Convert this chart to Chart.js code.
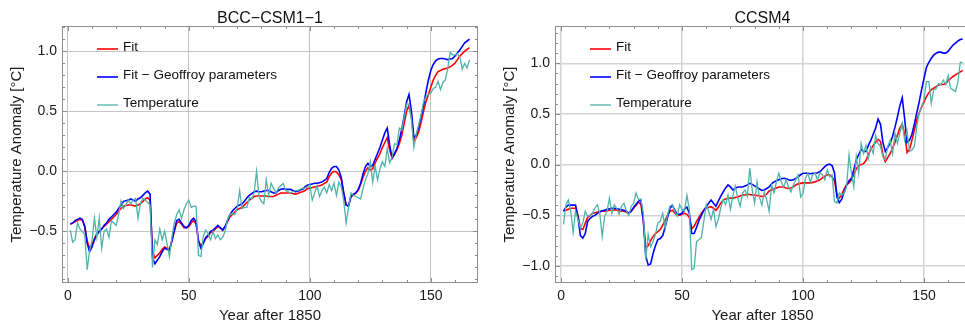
<!DOCTYPE html>
<html>
<head>
<meta charset="utf-8">
<title>Temperature anomaly fits</title>
<script src="https://cdn.jsdelivr.net/npm/chart.js@4.4.1/dist/chart.umd.min.js"></script>
<style>
  html, body { margin: 0; padding: 0; background: #fff; overflow: hidden; }
  .panel { position: absolute; top: 0; height: 326px; }
  #bccBox { left: 0; width: 480px; }
  #ccsmBox { left: 480px; width: 500px; }
</style>
</head>
<body>
<div class="panel" id="bccBox"><canvas id="bccChart"></canvas></div>
<div class="panel" id="ccsmBox"><canvas id="ccsmChart"></canvas></div>
<script>
// series labels (legend order)
const seriesNames = ['Fit', 'Fit \u2212 Geoffroy parameters', 'Temperature'];
const seriesColors = ['#ff0000', '#0000ff', '#4fb3aa'];

// tick labels
const xTicks = [0, 50, 100, 150];
const bccYTicks = [-0.5, 0, 0.5, 1.0];
const ccsmYTicks = [-1.0, -0.5, 0, 0.5, 1.0];

// BCC-CSM1-1, years 1..166 after 1850
const bccFit = [
  -0.44,-0.43,-0.42,-0.41,-0.40,-0.41,-0.46,-0.58,-0.64,-0.61,
  -0.56,-0.52,-0.50,-0.48,-0.46,-0.44,-0.42,-0.40,-0.38,-0.36,
  -0.33,-0.31,-0.29,-0.285,-0.28,-0.28,-0.285,-0.29,-0.28,-0.27,
  -0.25,-0.23,-0.22,-0.24,-0.67,-0.72,-0.70,-0.68,-0.65,-0.63,
  -0.64,-0.65,-0.58,-0.50,-0.43,-0.42,-0.44,-0.47,-0.47,-0.46,
  -0.43,-0.41,-0.44,-0.58,-0.62,-0.59,-0.56,-0.54,-0.51,-0.50,
  -0.48,-0.46,-0.47,-0.49,-0.46,-0.42,-0.38,-0.36,-0.34,-0.32,
  -0.31,-0.30,-0.28,-0.26,-0.24,-0.225,-0.21,-0.205,-0.205,-0.205,
  -0.205,-0.205,-0.21,-0.21,-0.21,-0.20,-0.19,-0.18,-0.18,-0.18,
  -0.18,-0.18,-0.185,-0.19,-0.185,-0.175,-0.17,-0.16,-0.145,-0.14,
  -0.135,-0.13,-0.125,-0.12,-0.115,-0.10,-0.09,-0.045,-0.015,0.0,
  -0.005,-0.03,-0.07,-0.18,-0.28,-0.29,-0.21,-0.20,-0.18,-0.16,
  -0.11,-0.05,0.0,0.03,0.01,0.02,0.07,0.11,0.15,0.20,
  0.24,0.28,0.18,0.11,0.14,0.18,0.23,0.30,0.40,0.50,
  0.55,0.45,0.25,0.28,0.33,0.41,0.50,0.58,0.64,0.70,
  0.76,0.80,0.83,0.84,0.85,0.855,0.86,0.87,0.885,0.90,
  0.93,0.96,0.98,1.0,1.015,1.03
];
const bccGeoffroy = [
  -0.44,-0.43,-0.41,-0.40,-0.39,-0.40,-0.46,-0.60,-0.67,-0.63,
  -0.57,-0.53,-0.50,-0.48,-0.45,-0.43,-0.40,-0.38,-0.36,-0.34,
  -0.31,-0.28,-0.25,-0.245,-0.24,-0.23,-0.24,-0.25,-0.23,-0.22,
  -0.20,-0.18,-0.165,-0.19,-0.72,-0.77,-0.74,-0.71,-0.67,-0.64,
  -0.65,-0.66,-0.58,-0.49,-0.41,-0.40,-0.43,-0.46,-0.47,-0.45,
  -0.41,-0.39,-0.42,-0.58,-0.64,-0.60,-0.55,-0.53,-0.50,-0.49,
  -0.47,-0.45,-0.47,-0.49,-0.46,-0.41,-0.36,-0.33,-0.31,-0.29,
  -0.28,-0.27,-0.25,-0.22,-0.20,-0.185,-0.17,-0.165,-0.17,-0.17,
  -0.165,-0.16,-0.16,-0.17,-0.18,-0.18,-0.16,-0.15,-0.145,-0.15,
  -0.15,-0.15,-0.16,-0.17,-0.165,-0.155,-0.15,-0.13,-0.115,-0.11,
  -0.105,-0.10,-0.10,-0.095,-0.09,-0.075,-0.06,-0.01,0.025,0.04,
  0.04,0.01,-0.05,-0.18,-0.28,-0.29,-0.21,-0.19,-0.18,-0.15,
  -0.10,-0.02,0.04,0.066,0.04,0.05,0.10,0.15,0.20,0.26,
  0.32,0.36,0.22,0.11,0.15,0.19,0.26,0.35,0.46,0.58,
  0.64,0.50,0.28,0.30,0.37,0.46,0.55,0.66,0.76,0.84,
  0.89,0.92,0.935,0.94,0.94,0.935,0.93,0.935,0.94,0.96,
  0.985,1.01,1.04,1.07,1.085,1.10
];
const bccTemp = [
  -0.49,-0.59,-0.57,-0.43,-0.48,-0.50,-0.53,-0.82,-0.66,-0.58,
  -0.39,-0.55,-0.39,-0.64,-0.50,-0.48,-0.55,-0.41,-0.43,-0.45,
  -0.36,-0.245,-0.31,-0.28,-0.24,-0.27,-0.24,-0.225,-0.39,-0.27,
  -0.225,-0.24,-0.26,-0.28,-0.80,-0.57,-0.61,-0.48,-0.57,-0.50,
  -0.60,-0.71,-0.55,-0.43,-0.36,-0.32,-0.39,-0.32,-0.27,-0.24,
  -0.30,-0.29,-0.29,-0.70,-0.71,-0.54,-0.49,-0.52,-0.57,-0.50,
  -0.56,-0.53,-0.57,-0.55,-0.50,-0.40,-0.36,-0.35,-0.36,-0.31,
  -0.16,-0.31,-0.30,-0.30,-0.22,-0.23,-0.18,0.0,-0.21,-0.25,
  -0.27,-0.07,-0.20,-0.10,-0.14,-0.18,-0.14,-0.12,-0.10,-0.16,
  -0.17,-0.18,-0.17,-0.16,-0.16,-0.15,-0.14,-0.14,-0.13,-0.11,
  -0.24,-0.18,-0.12,-0.21,-0.16,-0.13,-0.18,-0.11,-0.16,-0.10,
  -0.20,-0.09,-0.13,-0.24,-0.43,-0.30,-0.18,-0.20,-0.21,-0.22,
  -0.23,-0.14,-0.07,-0.02,0.08,-0.09,0.04,-0.07,0.02,0.08,
  0.04,0.19,0.07,0.12,0.23,0.22,0.36,0.34,0.45,0.56,
  0.56,0.43,0.20,0.31,0.39,0.47,0.58,0.62,0.64,0.65,
  0.69,0.70,0.75,0.68,0.74,0.76,0.86,0.99,0.97,0.97,
  0.98,0.95,0.85,0.90,0.86,0.93
];

// CCSM4, years 1..166 after 1850
const ccsmFit = [
  -0.46,-0.45,-0.44,-0.43,-0.43,-0.43,-0.50,-0.63,-0.64,-0.58,
  -0.52,-0.50,-0.48,-0.475,-0.47,-0.465,-0.46,-0.46,-0.455,-0.45,
  -0.45,-0.445,-0.45,-0.455,-0.46,-0.46,-0.47,-0.48,-0.46,-0.43,
  -0.40,-0.37,-0.39,-0.55,-0.82,-0.80,-0.75,-0.71,-0.68,-0.66,
  -0.64,-0.60,-0.55,-0.50,-0.46,-0.45,-0.48,-0.50,-0.50,-0.49,
  -0.48,-0.49,-0.52,-0.63,-0.61,-0.56,-0.52,-0.48,-0.45,-0.43,
  -0.42,-0.415,-0.43,-0.45,-0.42,-0.38,-0.35,-0.34,-0.335,-0.33,
  -0.33,-0.325,-0.32,-0.31,-0.30,-0.30,-0.295,-0.295,-0.30,-0.30,
  -0.305,-0.31,-0.315,-0.31,-0.29,-0.26,-0.25,-0.24,-0.23,-0.22,
  -0.22,-0.22,-0.23,-0.235,-0.23,-0.22,-0.20,-0.19,-0.185,-0.18,
  -0.18,-0.18,-0.18,-0.175,-0.17,-0.16,-0.15,-0.13,-0.115,-0.10,
  -0.10,-0.12,-0.16,-0.29,-0.33,-0.30,-0.24,-0.20,-0.18,-0.15,
  -0.10,-0.04,-0.01,0.0,0.01,0.04,0.10,0.15,0.19,0.22,
  0.25,0.23,0.10,0.03,0.07,0.11,0.16,0.22,0.29,0.36,
  0.40,0.30,0.12,0.15,0.24,0.34,0.44,0.51,0.57,0.62,
  0.67,0.71,0.74,0.755,0.77,0.785,0.79,0.79,0.80,0.83,
  0.85,0.87,0.885,0.90,0.915,0.93
];
const ccsmGeoffroy = [
  -0.46,-0.42,-0.40,-0.40,-0.40,-0.40,-0.52,-0.70,-0.725,-0.68,
  -0.56,-0.53,-0.51,-0.50,-0.48,-0.465,-0.455,-0.45,-0.44,-0.435,
  -0.43,-0.43,-0.435,-0.44,-0.445,-0.45,-0.46,-0.48,-0.46,-0.42,
  -0.39,-0.36,-0.35,-0.55,-0.90,-0.99,-0.98,-0.88,-0.80,-0.74,
  -0.73,-0.70,-0.62,-0.52,-0.43,-0.40,-0.45,-0.49,-0.49,-0.48,
  -0.44,-0.42,-0.48,-0.68,-0.68,-0.62,-0.55,-0.50,-0.45,-0.415,
  -0.38,-0.35,-0.38,-0.41,-0.36,-0.31,-0.27,-0.23,-0.20,-0.22,
  -0.25,-0.235,-0.22,-0.22,-0.22,-0.21,-0.20,-0.185,-0.195,-0.21,
  -0.225,-0.24,-0.255,-0.25,-0.235,-0.22,-0.19,-0.17,-0.16,-0.15,
  -0.14,-0.135,-0.14,-0.15,-0.155,-0.15,-0.135,-0.12,-0.10,-0.085,
  -0.085,-0.085,-0.09,-0.085,-0.085,-0.08,-0.07,-0.045,-0.02,0.0,
  0.005,-0.01,-0.08,-0.32,-0.375,-0.34,-0.27,-0.20,-0.16,-0.135,
  -0.05,0.046,0.10,0.15,0.13,0.13,0.19,0.24,0.30,0.36,
  0.45,0.40,0.22,0.13,0.17,0.21,0.28,0.37,0.47,0.58,
  0.66,0.45,0.22,0.24,0.30,0.40,0.51,0.62,0.74,0.85,
  0.96,1.01,1.05,1.08,1.10,1.11,1.11,1.10,1.10,1.12,
  1.15,1.18,1.20,1.22,1.235,1.24
];
const ccsmTemp = [
  -0.59,-0.40,-0.35,-0.46,-0.67,-0.46,-0.54,-0.625,-0.575,-0.46,
  -0.51,-0.50,-0.48,-0.43,-0.395,-0.48,-0.71,-0.51,-0.46,-0.33,
  -0.48,-0.395,-0.43,-0.49,-0.41,-0.38,-0.46,-0.50,-0.41,-0.38,
  -0.28,-0.345,-0.34,-0.48,-0.94,-0.69,-0.81,-0.76,-0.69,-0.575,
  -0.56,-0.48,-0.625,-0.495,-0.41,-0.395,-0.46,-0.51,-0.395,-0.44,
  -0.46,-0.30,-0.44,-1.035,-1.02,-0.76,-0.74,-0.72,-0.56,-0.395,
  -0.46,-0.54,-0.44,-0.61,-0.54,-0.43,-0.345,-0.395,-0.30,-0.44,
  -0.31,-0.21,-0.33,-0.41,-0.28,-0.25,-0.31,-0.035,-0.25,-0.38,
  -0.17,-0.32,-0.40,-0.27,-0.35,-0.46,-0.20,-0.28,-0.17,-0.085,
  -0.17,-0.22,-0.15,-0.22,-0.27,-0.20,-0.15,-0.10,-0.32,-0.28,
  -0.135,-0.085,-0.17,-0.10,-0.085,-0.15,-0.085,-0.10,-0.15,-0.05,
  -0.12,-0.10,-0.365,-0.38,-0.28,-0.30,-0.28,-0.22,0.095,-0.085,
  -0.22,0.08,-0.085,0.21,0.11,0.19,0.06,0.18,0.11,0.29,
  0.21,0.18,0.08,0.046,0.18,0.24,0.11,0.31,0.21,0.31,
  0.41,0.24,0.33,0.13,0.145,0.18,0.375,0.51,0.57,0.64,
  0.82,0.82,0.605,0.74,0.75,0.80,0.79,0.835,0.79,0.88,
  0.75,0.74,0.72,0.82,1.01,1.01
];

const firstYear = 1;
const FONT = "'Liberation Sans', Arial, sans-serif";
Chart.defaults.font.family = FONT;
Chart.defaults.color = '#1a1a1a';

const fmt = v => (v < 0 ? '\u2212' : '') + Math.abs(v).toFixed(1);

// frame with inward ticks on all four sides, title and the inset legend
const framePlugin = {
  id: 'framePlugin',
  afterDraw(chart, args, opts) {
    const { ctx, chartArea: a, scales: { x, y } } = chart;
    ctx.save();
    ctx.strokeStyle = '#8e8e8e';
    ctx.lineWidth = 1;
    ctx.strokeRect(a.left + 0.5, a.top + 0.5, a.right - a.left - 1, a.bottom - a.top - 1);

    ctx.beginPath();
    for (let v = 0; v <= x.max; v += 10) {
      const px = Math.round(x.getPixelForValue(v)) + 0.5;
      const len = v % 50 === 0 ? 5 : 3;
      ctx.moveTo(px, a.bottom); ctx.lineTo(px, a.bottom - len);
      ctx.moveTo(px, a.top); ctx.lineTo(px, a.top + len);
    }
    for (let k = Math.ceil(y.min * 10); k <= Math.floor(y.max * 10); k++) {
      const py = Math.round(y.getPixelForValue(k / 10)) + 0.5;
      const len = k % 5 === 0 ? 5 : 3;
      ctx.moveTo(a.left, py); ctx.lineTo(a.left + len, py);
      ctx.moveTo(a.right, py); ctx.lineTo(a.right - len, py);
    }
    ctx.stroke();

    ctx.fillStyle = '#111';
    ctx.font = '16px ' + FONT;
    ctx.textAlign = 'center';
    ctx.textBaseline = 'alphabetic';
    ctx.fillText(opts.title, (a.left + a.right) / 2, 23);

    ctx.font = '13.5px ' + FONT;
    ctx.textAlign = 'left';
    ctx.textBaseline = 'middle';
    chart.data.datasets.forEach((ds, i) => {
      const ly = a.top + 23 + i * 28;
      ctx.strokeStyle = ds.borderColor;
      ctx.lineWidth = ds.borderWidth;
      ctx.beginPath();
      ctx.moveTo(a.left + 35, ly); ctx.lineTo(a.left + 56, ly);
      ctx.stroke();
      ctx.fillText(ds.label, a.left + 61, ly - 1.5);
    });
    ctx.restore();
  }
};

function makePanel(id, title, series, yTicks, xRange, yRange, axisWidth, yTitlePad, rightPad, gridStyle) {
  const datasets = series.map((vals, i) => ({
    label: seriesNames[i],
    data: vals.map((v, j) => ({ x: firstYear + j, y: v })),
    borderColor: seriesColors[i],
    borderWidth: i === 2 ? 1.3 : 1.6,
    pointRadius: 0,
    tension: 0,
    order: 3 - i
  }));
  return new Chart(document.getElementById(id), {
    type: 'line',
    data: { datasets },
    options: {
      responsive: true,
      maintainAspectRatio: false,
      animation: false,
      layout: { padding: { top: 26, right: rightPad, left: 0, bottom: 0 } },
      plugins: {
        legend: { display: false },
        tooltip: { enabled: false },
        framePlugin: { title }
      },
      scales: {
        x: {
          type: 'linear',
          min: xRange[0], max: xRange[1],
          afterBuildTicks: s => { s.ticks = xTicks.map(v => ({ value: v })); },
          afterFit: s => { s.height = 43; },
          ticks: { font: { size: 14 }, color: '#1a1a1a', padding: 5, maxRotation: 0 },
          grid: { color: gridStyle.color, lineWidth: gridStyle.width, drawTicks: false },
          border: { display: false },
          title: { display: true, text: 'Year after 1850', font: { size: 15 }, color: '#1a1a1a', padding: { top: 0, bottom: 1 } }
        },
        y: {
          min: yRange[0], max: yRange[1],
          afterBuildTicks: s => { s.ticks = yTicks.map(v => ({ value: v })); },
          afterFit: s => { s.width = axisWidth; },
          ticks: { font: { size: 14 }, color: '#1a1a1a', padding: 5, callback: fmt },
          grid: { color: gridStyle.color, lineWidth: gridStyle.width, drawTicks: false },
          border: { display: false },
          title: { display: true, text: 'Temperature Anomaly [\u00b0C]', font: { size: 15 }, color: '#1a1a1a', padding: { top: yTitlePad, bottom: 0 } }
        }
      }
    },
    plugins: [framePlugin]
  });
}

makePanel('bccChart', 'BCC\u2212CSM1\u22121', [bccFit, bccGeoffroy, bccTemp], bccYTicks,
  [-2.4, 169.5], [-0.93, 1.21], 62, 8, 2, { color: '#c4c4c4', width: 1 });
makePanel('ccsmChart', 'CCSM4', [ccsmFit, ccsmGeoffroy, ccsmTemp], ccsmYTicks,
  [-2.5, 169], [-1.168, 1.368], 75, 21, 10, { color: '#d4d4d4', width: 1.5 });
</script>
</body>
</html>
